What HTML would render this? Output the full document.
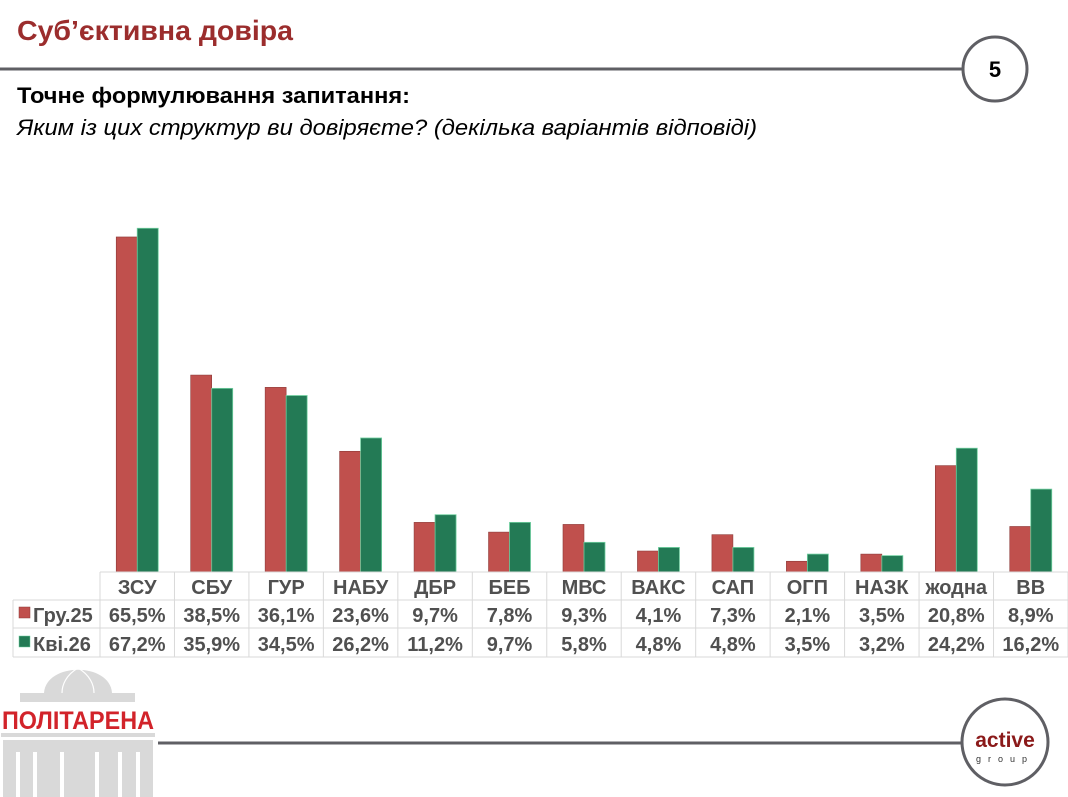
<!DOCTYPE html>
<html><head><meta charset="utf-8"><style>
body{margin:0;width:1068px;height:797px;background:#fff;overflow:hidden;font-family:"Liberation Sans",sans-serif}
svg{display:block}
</style></head><body>
<svg id="s" width="1068" height="797" xmlns="http://www.w3.org/2000/svg" font-family="Liberation Sans, sans-serif">
<text x="17" y="40" font-size="28" font-weight="bold" fill="#9b2d2d" textLength="276" lengthAdjust="spacingAndGlyphs">Суб’єктивна довіра</text>
<line x1="0" y1="69" x2="963" y2="69" stroke="#5f5f64" stroke-width="3"/>
<circle cx="995" cy="69" r="32" fill="#fff" stroke="#5f5f64" stroke-width="3"/>
<text x="995" y="77" font-size="22" font-weight="bold" text-anchor="middle" fill="#000">5</text>
<text x="17" y="103" font-size="22" font-weight="bold" fill="#000" textLength="393" lengthAdjust="spacingAndGlyphs">Точне формулювання запитання:</text>
<text x="17" y="135" font-size="22" font-style="italic" fill="#000" textLength="740" lengthAdjust="spacingAndGlyphs">Яким із цих структур ви довіряєте? (декілька варіантів відповіді)</text>
<g id="bars"></g>
<g id="tbl" font-size="20" font-weight="bold" fill="#505050"></g>
<g fill="#d9d9d9">
<path d="M44 693 C46 662 110 662 112 693 Z"/>
<rect x="20" y="693" width="115" height="9"/>
<rect x="1" y="733" width="154" height="4"/>
<rect x="3" y="740" width="150" height="57"/>
</g>
<path d="M78 668 C66 675 62 685 62 693 M78 668 C90 675 94 685 94 693" stroke="#fff" stroke-width="1.2" fill="none"/>
<g fill="#fff"><rect x="16" y="752" width="4" height="45"/><rect x="33" y="752" width="4" height="45"/><rect x="60" y="752" width="4" height="45"/><rect x="95" y="752" width="4" height="45"/><rect x="118" y="752" width="4" height="45"/><rect x="136" y="752" width="4" height="45"/></g>
<text x="2" y="729" font-size="25" font-weight="bold" fill="#d2232a" textLength="152" lengthAdjust="spacingAndGlyphs">ПОЛІТАРЕНА</text>
<line x1="158" y1="743" x2="963" y2="743" stroke="#5f5f64" stroke-width="3"/>
<circle cx="1005" cy="742" r="43" fill="#fff" stroke="#5f5f64" stroke-width="3"/>
<text x="1005" y="747" font-size="21" font-weight="bold" text-anchor="middle" fill="#8b1a1a">active</text>
<text x="1005" y="762" font-size="9" text-anchor="middle" fill="#333" letter-spacing="7">group</text>
</svg>
<script>
var cats=["ЗСУ","СБУ","ГУР","НАБУ","ДБР","БЕБ","МВС","ВАКС","САП","ОГП","НАЗК","жодна","ВВ"];
var a=[65.5,38.5,36.1,23.6,9.7,7.8,9.3,4.1,7.3,2.1,3.5,20.8,8.9];
var b=[67.2,35.9,34.5,26.2,11.2,9.7,5.8,4.8,4.8,3.5,3.2,24.2,16.2];
var ns="http://www.w3.org/2000/svg",base=572,k=5.115,w=74.46,x0=100;
function el(t,at,p,txt){var e=document.createElementNS(ns,t);for(var q in at)e.setAttribute(q,at[q]);if(txt!=null)e.textContent=txt;p.appendChild(e);return e;}
var B=document.getElementById("bars"),T=document.getElementById("tbl");
function f(v){return v.toFixed(1).replace(".",",")+"%";}
for(var i=0;i<13;i++){var c=x0+w*(i+0.5);
el("rect",{x:c-21,y:base-a[i]*k,width:21,height:a[i]*k,fill:"#c0504d",stroke:"#8c3a38","stroke-width":0.6},B);
el("rect",{x:c,y:base-b[i]*k,width:21,height:b[i]*k,fill:"#237a55",stroke:"#6fcf9f","stroke-width":0.8},B);
el("text",{x:c,y:594,"text-anchor":"middle"},T,cats[i]);
el("text",{x:c,y:622,"text-anchor":"middle"},T,f(a[i]));
el("text",{x:c,y:651,"text-anchor":"middle"},T,f(b[i]));
}
var G=el("g",{stroke:"#d9d9d9","stroke-width":1,fill:"none"},B);
el("line",{x1:100,y1:572,x2:1068,y2:572},G);
el("line",{x1:13,y1:600,x2:1068,y2:600},G);
el("line",{x1:13,y1:628,x2:1068,y2:628},G);
el("line",{x1:13,y1:657,x2:1068,y2:657},G);
el("line",{x1:13,y1:600,x2:13,y2:657},G);
for(var i=0;i<=13;i++){el("line",{x1:x0+w*i,y1:572,x2:x0+w*i,y2:657},G);}
el("rect",{x:19,y:607,width:11,height:11,fill:"#c0504d",stroke:"#8c3a38","stroke-width":0.5},B);
el("rect",{x:19,y:636,width:11,height:11,fill:"#237a55",stroke:"#6fcf9f","stroke-width":0.5},B);
el("text",{x:33,y:622},T,"Гру.25");
el("text",{x:33,y:651},T,"Кві.26");
</script>
</body></html>
